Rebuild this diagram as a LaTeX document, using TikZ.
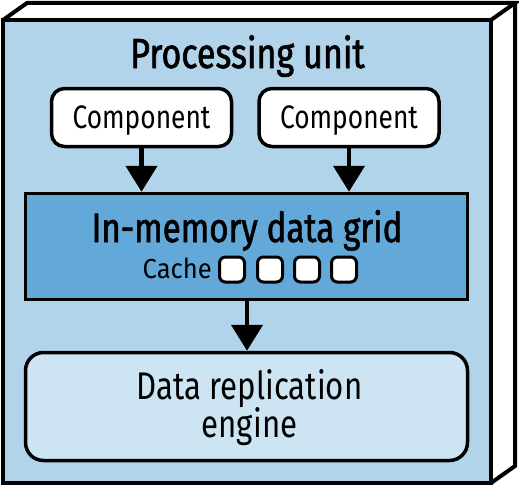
\documentclass[tikz,border=0pt]{standalone}
\usepackage{fontspec}
\setmainfont{Fira Sans}[FakeStretch=0.81]
\newfontfamily\medfont{Fira Sans}[FakeStretch=0.81,FakeBold=1.5]
\newfontfamily\widefont{Fira Sans}[FakeStretch=0.93]
\usetikzlibrary{arrows.meta}
\definecolor{unitblue}{HTML}{B1D4EA}
\definecolor{gridblue}{HTML}{62A8D8}
\definecolor{engblue}{HTML}{CDE4F2}
\tikzset{
  face/.style={draw=black,line width=4pt,line join=miter},
  compbox/.style={draw=black,fill=white,line width=3.5pt,rounded corners=13pt,
    minimum width=180pt,minimum height=58pt,inner sep=0pt,
    text height=22pt,text depth=0pt,
    font=\fontsize{32.5}{38}\selectfont},
  gridbox/.style={draw=black,fill=gridblue,line width=3.5pt,
    minimum width=442pt,minimum height=106pt,inner sep=0pt},
  engbox/.style={draw=black,fill=engblue,line width=3.5pt,rounded corners=18pt,
    minimum width=442pt,minimum height=108pt,inner sep=0pt},
  lbl/.style={anchor=base,inner sep=0pt},
  cachesq/.style={draw=black,fill=white,line width=3pt,rounded corners=6pt,
    minimum width=25pt,minimum height=25pt,inner sep=0pt},
  flow/.style={line width=4.5pt,-{Triangle[width=31pt,length=26pt]}},
}
\begin{document}
\begin{tikzpicture}[x=1pt,y=-1pt]
\useasboundingbox (0,0) rectangle (519,487);
% 3D unit box
\fill[white] (3,20) -- (27,3) -- (515,3) -- (491,20) -- cycle;
\fill[white] (491,20) -- (515,3) -- (515,466) -- (491,483) -- cycle;
\draw[face,fill=unitblue] (3,20) rectangle (491,483);
\draw[face] (3,20) -- (27,3) -- (515,3) -- (491,20);
\draw[face] (515,3) -- (515,466) -- (491,483);
\node[lbl,font=\medfont\fontsize{42}{50}\selectfont] (title) at (247.5,68) {Processing unit};
% components
\node[compbox] (c1) at (141.5,117.5) {Component};
\node[compbox] (c2) at (349,117.5) {Component};
% grid
\node[gridbox] (grid) at (246.5,246.5) {};
\node[lbl,font=\medfont\fontsize{41}{46}\selectfont] (gridt) at (247,242) {In-memory data grid};
\node[lbl,anchor=base east,font=\widefont\fontsize{27.5}{30}\selectfont] (cache) at (212,278) {Cache};
\node[cachesq] (s1) at (232,269.5) {};
\node[cachesq] (s2) at (270,269.5) {};
\node[cachesq] (s3) at (307,269.5) {};
\node[cachesq] (s4) at (344,269.5) {};
% engine
\node[engbox] (eng) at (246.5,406.5) {};
\node[lbl,font=\fontsize{38.5}{30}\selectfont] (engt1) at (249.5,399) {Data replication};
\node[lbl,font=\fontsize{38.5}{30}\selectfont] (engt2) at (249.5,437) {engine};
% arrows
\draw[flow] (c1.south) -- (grid.north -| c1.south);
\draw[flow] (c2.south) -- (grid.north -| c2.south);
\draw[flow] (grid.south -| 247,0) -- (eng.north -| 247,0);
\end{tikzpicture}
\end{document}
